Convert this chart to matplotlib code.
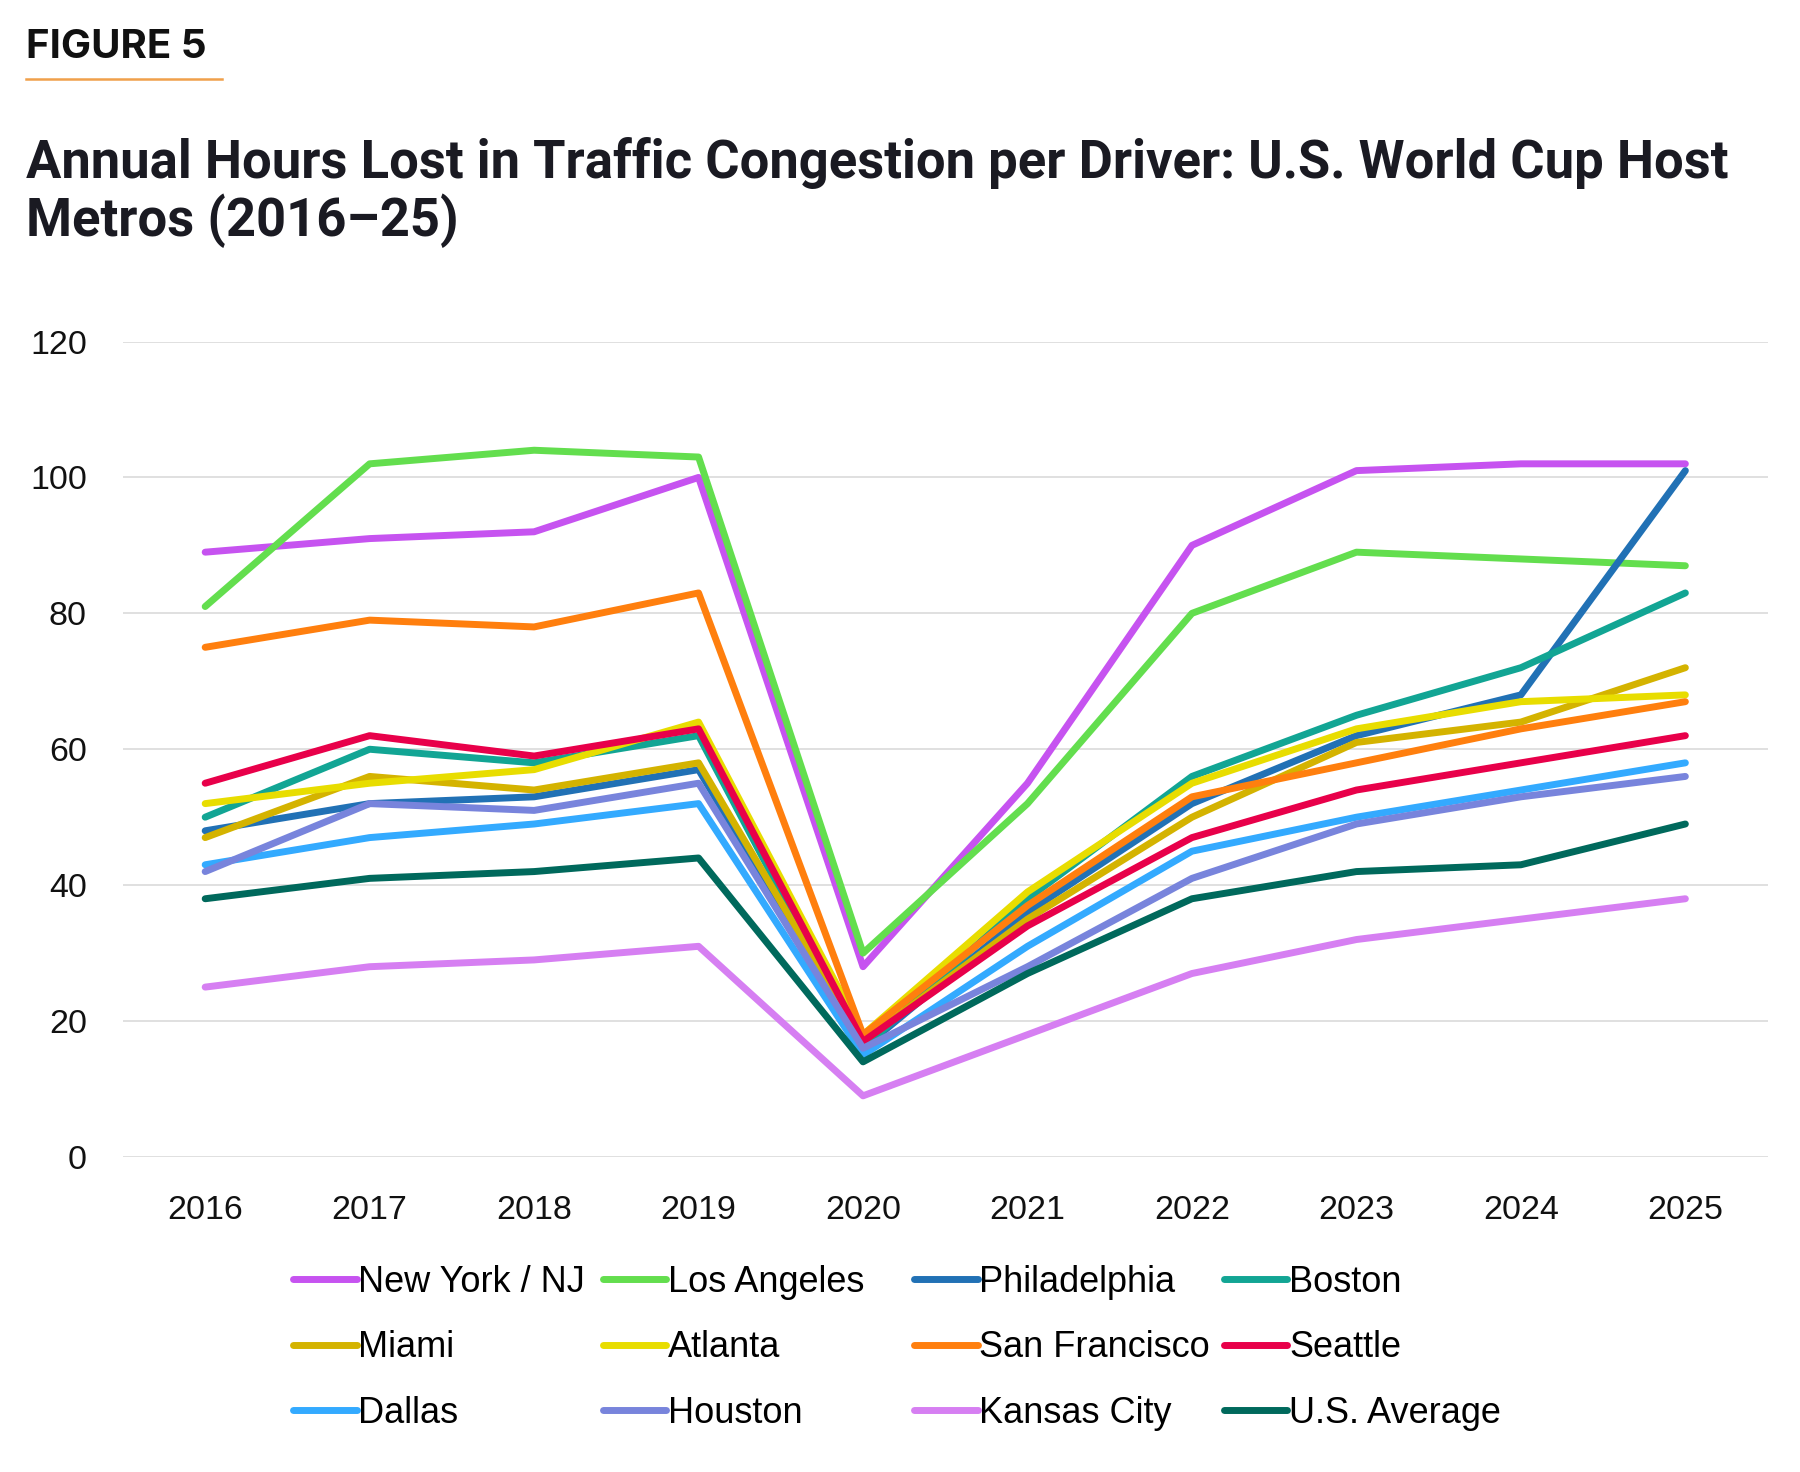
import matplotlib
matplotlib.use("Agg")
import matplotlib.pyplot as plt
from matplotlib.lines import Line2D

years = [2016, 2017, 2018, 2019, 2020, 2021, 2022, 2023, 2024, 2025]

new_york      = [89, 91, 92, 100, 28, 55, 90, 101, 102, 102]
los_angeles   = [81, 102, 104, 103, 30, 52, 80, 89, 88, 87]
philadelphia  = [48, 52, 53, 57, 16, 36, 52, 62, 68, 101]
boston        = [50, 60, 58, 62, 16, 38, 56, 65, 72, 83]
miami         = [47, 56, 54, 58, 17, 35, 50, 61, 64, 72]
atlanta       = [52, 55, 57, 64, 18, 39, 55, 63, 67, 68]
san_francisco = [75, 79, 78, 83, 18, 37, 53, 58, 63, 67]
seattle       = [55, 62, 59, 63, 17, 34, 47, 54, 58, 62]
dallas        = [43, 47, 49, 52, 15, 31, 45, 50, 54, 58]
houston       = [42, 52, 51, 55, 16, 28, 41, 49, 53, 56]
kansas_city   = [25, 28, 29, 31, 9, 18, 27, 32, 35, 38]
us_average    = [38, 41, 42, 44, 14, 27, 38, 42, 43, 49]

names = ["New York / NJ", "Los Angeles", "Philadelphia", "Boston",
         "Miami", "Atlanta", "San Francisco", "Seattle",
         "Dallas", "Houston", "Kansas City", "U.S. Average"]
series = [new_york, los_angeles, philadelphia, boston,
          miami, atlanta, san_francisco, seattle,
          dallas, houston, kansas_city, us_average]
colors = ["#C653F0", "#63DE4E", "#2171B5", "#12A594",
          "#D4B300", "#E8DD00", "#FF7F0E", "#E8004A",
          "#33AAFF", "#7884DC", "#D67FF2", "#00695C"]

y_ticks = [0, 20, 40, 60, 80, 100, 120]

fig = plt.figure(figsize=(18, 14.72), dpi=100)
ax = fig.add_axes([0.0683, 0.214, 0.9137, 0.554])

handles = []
for name, vals, c in zip(names, series, colors):
    h, = ax.plot(years, vals, color=c, lw=5.0, solid_capstyle="round",
                 solid_joinstyle="round", label=name)
    handles.append(h)

ax.set_xlim(2015.5, 2025.5)
ax.set_ylim(0, 120)
ax.set_yticks(y_ticks)
ax.set_xticks(years)
ax.set_xticklabels([str(y) for y in years])
ax.grid(axis="y", color="#DADADA", lw=1.2)
ax.set_axisbelow(True)
for s in ax.spines.values():
    s.set_visible(False)
ax.tick_params(length=0, labelsize=24.5)
ax.tick_params(axis="x", pad=27.5)
ax.tick_params(axis="y", pad=26)
for lab in ax.get_xticklabels() + ax.get_yticklabels():
    lab.set_fontfamily("Liberation Sans")
    lab.set_color("#111111")

# Figure label and title
fig.text(0.0144, 0.9805, "FIGURE 5", fontsize=29, fontweight="bold",
         family="Inter", color="#111111", va="top", ha="left")
fig.add_artist(Line2D([0.0144, 0.1233], [0.946, 0.946], color="#F0A04B", lw=1.8))
fig.text(0.0144, 0.907,
         "Annual Hours Lost in Traffic Congestion per Driver: U.S. World Cup Host\nMetros (2016\u201325)",
         fontsize=37.8, fontweight="bold", family="Roboto", color="#1A1A22",
         va="top", ha="left", linespacing=1.1)

# Legend: 4 columns of equal spacing
col_x = [0.163, 0.335, 0.508, 0.680]
for ci in range(4):
    idx = [ci, ci + 4, ci + 8]
    fig.legend([handles[i] for i in idx], [names[i] for i in idx],
               loc="upper left", bbox_to_anchor=(col_x[ci], 0.1407),
               frameon=False, ncol=1, handlelength=1.75, handletextpad=0.05,
               borderpad=0, borderaxespad=0, labelspacing=0.84,
               prop={"family": "Liberation Sans", "size": 26})

fig.savefig("out.png", dpi=100, facecolor="white")
